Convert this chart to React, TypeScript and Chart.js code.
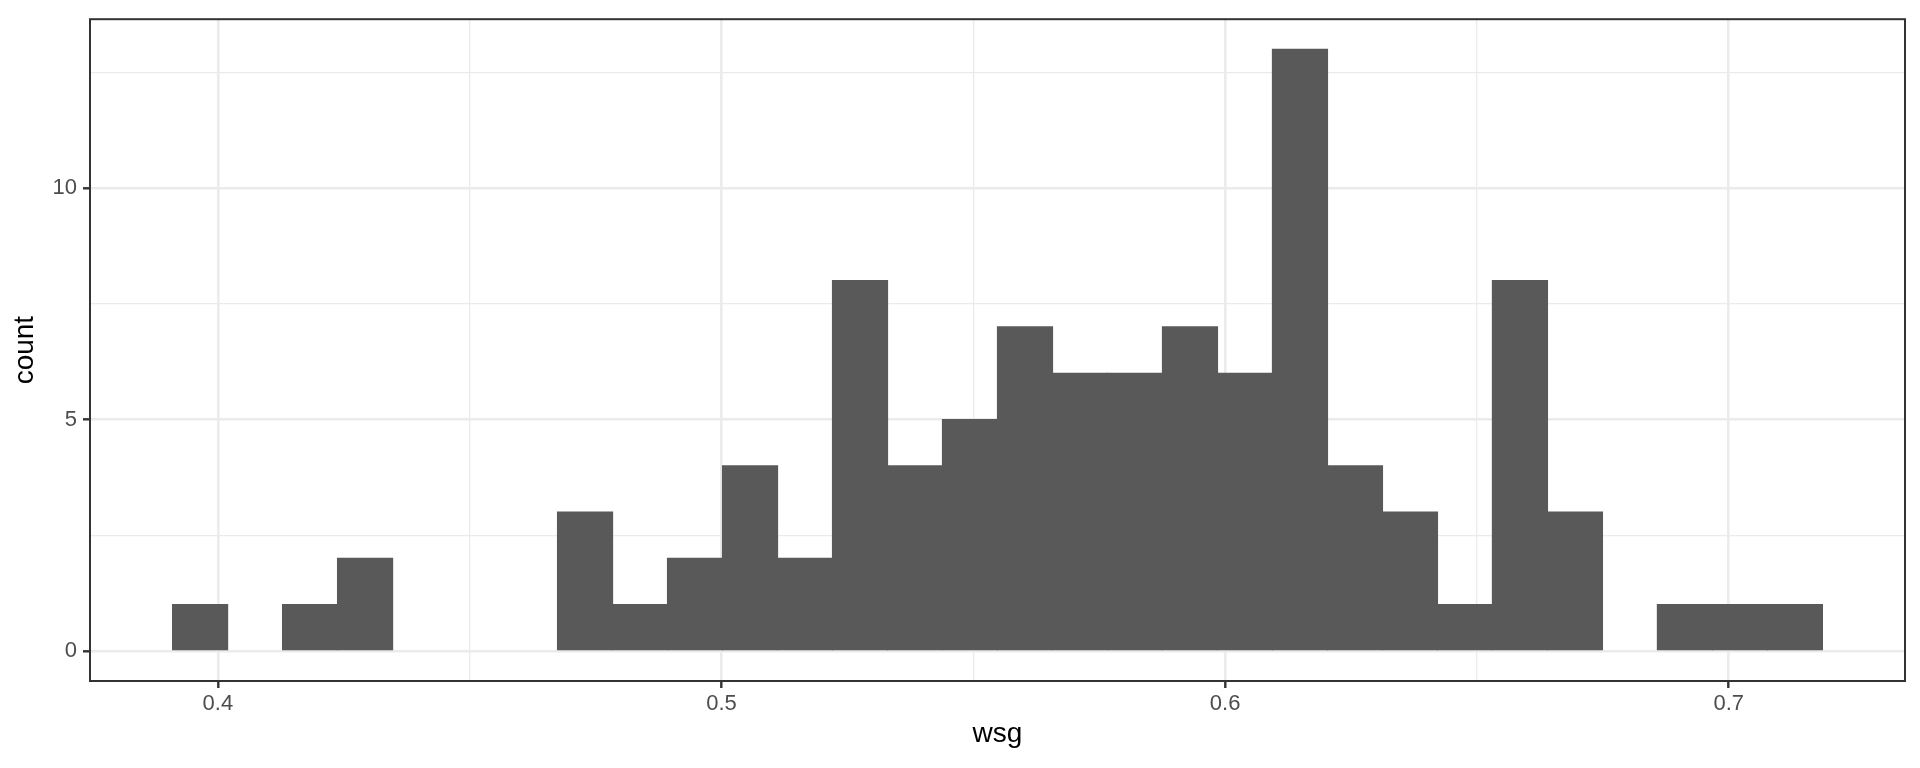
import React, { useEffect, useRef } from "react";
import { Chart, registerables } from "chart.js";

Chart.register(...registerables);

// Histogram definition (30 bins)
const binStart = 0.391;
const binWidth = 0.01092;
const counts = [1, 0, 1, 2, 0, 0, 0, 3, 1, 2, 4, 2, 8, 4, 5, 7, 6, 6, 7, 6, 13, 4, 3, 1, 8, 3, 0, 1, 1, 1];

const xTickLabels = ["0.4", "0.5", "0.6", "0.7"];
const yTickLabels = ["0", "5", "10"];
const xTitle = "wsg";
const yTitle = "count";
const xRange = [0.3746, 0.735];
const yRange = [-0.65, 13.65];

const FONT = "'Liberation Sans', Arial, Helvetica, sans-serif";
const GRID = "#EBEBEB";
const DARK = "#333333";
const BAR = "#595959";

function isLabel(list: string[], v: number) {
  return list.find((l) => Math.abs(Number(l) - v) < 1e-6);
}

const panelBorder = {
  id: "panelBorder",
  afterDatasetsDraw(chart: any) {
    const { ctx, chartArea: a } = chart;
    ctx.save();
    ctx.strokeStyle = DARK;
    ctx.lineWidth = 2;
    ctx.strokeRect(a.left, a.top, a.right - a.left, a.bottom - a.top);
    ctx.restore();
  },
};

export default function App() {
  const ref = useRef<HTMLCanvasElement | null>(null);

  useEffect(() => {
    if (!ref.current) return;
    const data = counts.map((c, i) => ({ x: binStart + (i + 0.5) * binWidth, y: c }));
    const chart = new Chart(ref.current, {
      type: "bar",
      data: {
        datasets: [
          {
            data,
            backgroundColor: (ctx: any) => (ctx.raw && ctx.raw.y === 0 ? "rgba(0,0,0,0)" : BAR),
            borderWidth: 0,
            inflateAmount: 0.6,
            barPercentage: 1,
            categoryPercentage: 1,
          } as any,
        ],
      },
      plugins: [panelBorder],
      options: {
        responsive: false,
        animation: false,
        layout: { padding: { left: 0, top: 15, right: 15, bottom: 0 } },
        plugins: { legend: { display: false }, tooltip: { enabled: false } },
        scales: {
          x: {
            type: "linear",
            min: xRange[0],
            max: xRange[1],
            offset: false,
            border: { display: false },
            afterFit: (s: any) => {
              s.height = 87;
            },
            grid: {
              offset: false,
              color: GRID,
              lineWidth: (ctx: any) => (isLabel(xTickLabels, ctx.tick?.value) ? 2.6 : 1.3),
              drawTicks: true,
              tickLength: 7,
              tickWidth: 2.4,
              tickColor: (ctx: any) => (isLabel(xTickLabels, ctx.tick?.value) ? DARK : "rgba(0,0,0,0)"),
            },
            ticks: {
              stepSize: 0.05,
              includeBounds: false,
              autoSkip: false,
              maxRotation: 0,
              padding: 3,
              color: "#4D4D4D",
              font: { family: FONT, size: 22 },
              callback: (v: any) => isLabel(xTickLabels, Number(v)) ?? "",
            },
            title: {
              display: true,
              text: xTitle,
              color: "#000000",
              font: { family: FONT, size: 28 },
              padding: { top: 0, bottom: 17 },
            },
          },
          y: {
            type: "linear",
            min: yRange[0],
            max: yRange[1],
            border: { display: false },
            afterFit: (s: any) => {
              s.width = 90;
            },
            grid: {
              offset: false,
              color: GRID,
              lineWidth: (ctx: any) => (isLabel(yTickLabels, ctx.tick?.value) ? 2.6 : 1.3),
              drawTicks: true,
              tickLength: 7,
              tickWidth: 2.4,
              tickColor: (ctx: any) => (isLabel(yTickLabels, ctx.tick?.value) ? DARK : "rgba(0,0,0,0)"),
            },
            ticks: {
              stepSize: 2.5,
              includeBounds: false,
              autoSkip: false,
              padding: 6,
              color: "#4D4D4D",
              font: { family: FONT, size: 22 },
              callback: (v: any) => isLabel(yTickLabels, Number(v)) ?? "",
            },
            title: {
              display: true,
              text: yTitle,
              color: "#000000",
              font: { family: FONT, size: 28 },
              padding: { top: 8, bottom: 0 },
            },
          },
        },
      },
    });
    return () => chart.destroy();
  }, []);

  return (
    <div style={{ position: "fixed", left: 0, top: 0, width: 1920, height: 768, background: "#fff" }}>
      <canvas ref={ref} width={1920} height={768} style={{ display: "block" }} />
    </div>
  );
}
